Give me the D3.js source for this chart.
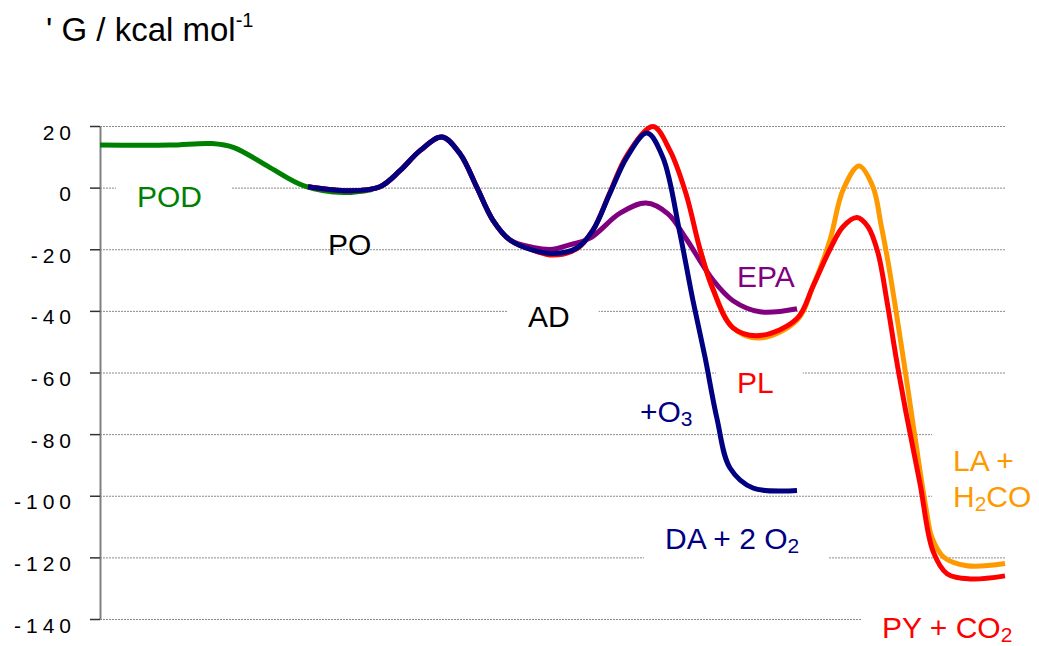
<html>
<head>
<meta charset="utf-8">
<title>Energy profile</title>
<script src="https://d3js.org/d3.v7.min.js"></script>
<style>
body { margin: 0; background: #fff; font-family: 'Liberation Sans', Arial, sans-serif; }
svg { display: block; }
.grid line { stroke: #8a8a8a; stroke-dasharray: 2,1; }
.grid path { display: none; }
.axis path { stroke: #808080; stroke-width: 2; }
.axis line { stroke: #333; stroke-width: 1.5; }
.axis text { font-size: 21px; letter-spacing: 5px; fill: #000; }
.curve { fill: none; stroke-width: 5; }
.lbl { font-size: 30px; }
</style>
</head>
<body>
<div id="chart"></div>
<script>
var width = 1039, height = 646;

// y axis ticks
var yTicks = [20, 0, -20, -40, -60, -80, -100, -120, -140];

// series: [reaction coordinate, energy]
var podPts = [[0,13.8],[3.5,13.8],[5.6,14.3],[6.7,13],[8.5,6.5],[10.2,0.6],[12.2,-1.6],[13.6,-0.6]];

var blueFront = [[10.4,0.3],[12.5,-1],[14,0.3],[15,5.5],[16,12],[17.1,16.4],[18,11],[18.85,0],
  [19.65,-10.6],[20.5,-17],[21.65,-20.3],[22.65,-21.4],[23.85,-19.6],[24.65,-13.8],[25.5,-1.8],[26.35,9.9]];

var o3Pts = blueFront.concat([[27.35,17.7],[28.15,9.7],
  [29,-15],[29.65,-36.7],[30.25,-55],[30.85,-75],[31.5,-91],[32.65,-97.5],[34.85,-98.3]]);

var epaPts = blueFront.slice(0, 10).concat([[21.65,-19.4],[22.65,-20],[23.35,-18.8],[24.5,-16.4],
  [26,-8.3],[27.3,-5],[28.4,-8.5],[29.3,-16.5],[30.65,-30],[31.65,-36.7],[33,-40.3],[34.85,-39.3]]);

var plPts = blueFront.slice(0, 11).concat([[22.65,-21.9],[23.85,-19.8],[24.65,-13.8],[25.5,-1.5],
  [26.35,10.5],[27.65,19.8],
  [28.5,12],[29.3,-2],[30.0,-20],[30.65,-33],[31.65,-45.5],[33,-48],[34.85,-42.5],[35.65,-32],
  [36.5,-20],[37.15,-12.7],[37.85,-9.7],[38.4,-12.7],[38.9,-21.2],[39.35,-37],[39.8,-55],
  [40.3,-73],[41,-96],[41.65,-118],[42.35,-125.3],[43.5,-127],[45.25,-126]]);

var laPts = [[30.0,-20],[30.65,-33],[31.65,-45.5],[33,-48.8],[34.85,-43],[35.65,-32],
  [36.5,-17],[37.15,-0.8],[37.95,7],[38.65,0.2],[39.05,-12],[39.4,-24],[39.8,-40],
  [40.25,-59],[40.75,-81],[41.3,-104],[41.6,-113.6],[42.2,-120],[43.35,-122.7],[45.25,-122]];

var series = [
  { name: "POD", color: "#008000", pts: podPts },
  { name: "LA", color: "#ff9900", pts: laPts },
  { name: "EPA", color: "#800080", pts: epaPts },
  { name: "PL", color: "#ff0000", pts: plPts },
  { name: "O3", color: "#000080", pts: o3Pts }
];

// labels: anchor at [x, y] in data units (baseline), "_" marks a subscript digit
var labels = [
  { lines: ["POD"], at: [1.85, -6.3], color: "#008000", box: true },
  { lines: ["PO"], at: [11.4, -21.9], color: "#000000", box: false },
  { lines: ["AD"], at: [21.4, -45.2], color: "#000000", box: true },
  { lines: ["EPA"], at: [31.85, -32.3], color: "#800080", box: false },
  { lines: ["PL"], at: [31.85, -66.7], color: "#ff0000", box: true },
  { lines: ["+O_3"], at: [27, -76.1], color: "#000080", box: false },
  { lines: ["DA + 2 O_2"], at: [28.25, -117.3], color: "#000080", box: true },
  { lines: ["LA +", "H_2CO"], at: [42.65, -92], color: "#ff9900", box: true },
  { lines: ["PY + CO_2"], at: [39.1, -146.2], color: "#ff0000", box: true }
];

var svg = d3.select("#chart").append("svg")
  .attr("width", width).attr("height", height);

var x = d3.scaleLinear().domain([0, 45.25]).range([100, 1005]);
var y = d3.scaleLinear().domain([-140, 20]).range([619, 126]);

// gridlines
svg.append("g").attr("class", "grid")
  .attr("transform", "translate(100,0)")
  .call(d3.axisLeft(y).tickValues(yTicks).tickSize(-(1005 - 100)).tickFormat(""));

// label backgrounds go here (filled after text is measured)
var boxLayer = svg.append("g");

// axis
var yAxis = d3.axisLeft(y).tickValues(yTicks).tickSize(10).tickSizeOuter(0).tickPadding(19)
  .tickFormat(function (d) { return d; });
var ax = svg.append("g").attr("class", "axis")
  .attr("transform", "translate(100,0)")
  .call(yAxis);
ax.selectAll("text").attr("dy", "0.62em").attr("dx", "5px");

// curves
var line = d3.line()
  .x(function (d) { return x(d[0]); })
  .y(function (d) { return y(d[1]); })
  .curve(d3.curveCatmullRom.alpha(0.5));

series.forEach(function (s) {
  svg.append("path").attr("class", "curve")
    .attr("stroke", s.color)
    .attr("d", line(s.pts));
});

// labels
function addParts(textEl, str) {
  var shift = 0;
  str.split(/(_\d)/).forEach(function (part) {
    if (!part) return;
    if (part[0] === "_") {
      textEl.append("tspan").attr("font-size", "21px").attr("dy", 4).text(part.slice(1));
      shift = -4;
    } else {
      textEl.append("tspan").attr("dy", shift).text(part);
      shift = 0;
    }
  });
}

labels.forEach(function (l) {
  var g = svg.append("g");
  l.lines.forEach(function (str, i) {
    var t = g.append("text").attr("class", "lbl")
      .attr("x", x(l.at[0]))
      .attr("y", y(l.at[1]) + i * 36)
      .attr("fill", l.color);
    addParts(t, str);
  });
  if (l.box) {
    var b = g.node().getBBox();
    var bx = b.x - 21, by = b.y - 12;
    boxLayer.append("rect")
      .attr("x", bx).attr("y", by)
      .attr("width", Math.min(b.width + 50, width - bx))
      .attr("height", Math.min(b.height + 20, height - by))
      .attr("fill", "#fff");
  }
});

// title
var title = svg.append("text").attr("x", 46).attr("y", 41)
  .attr("font-size", "33px").attr("fill", "#000");
title.append("tspan").text("' G / kcal mol");
title.append("tspan").attr("font-size", "20px").attr("dy", -14).text("-1");
</script>
</body>
</html>
